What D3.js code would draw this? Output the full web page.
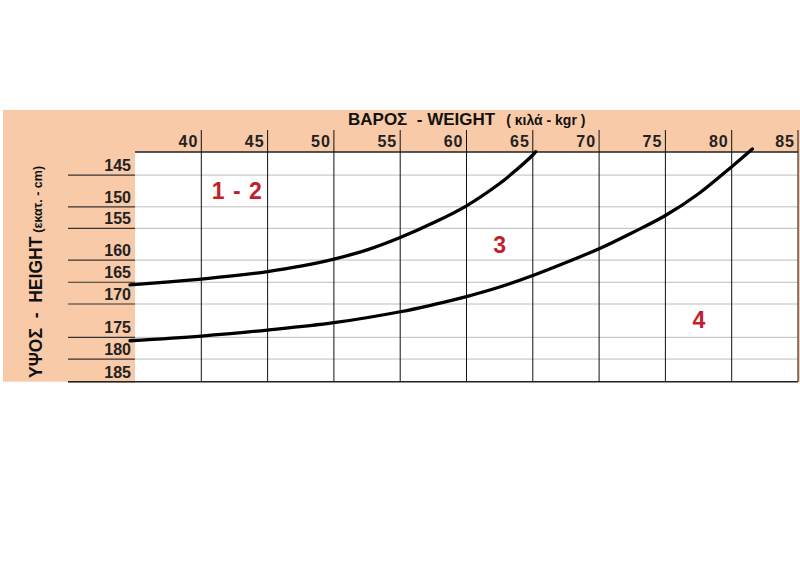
<!DOCTYPE html>
<html><head><meta charset="utf-8">
<script src="https://cdn.jsdelivr.net/npm/d3@7"></script>
<style>body{margin:0;background:#fff}svg{display:block;font-family:"Liberation Sans",Arial,sans-serif}</style>
</head><body>
<svg id="c" width="800" height="582"></svg>
<script>
// ---- data ----
const weightTicks = [40,45,50,55,60,65,70,75,80,85];
const heightLabels = [145,150,155,160,165,170,175,180,185];
const upperWeights = [34.62,40,42.5,45,47.5,50,52.5,55,57.5,60,62.5,63.75,65,65.23];
const upperHeights = [168.12,166.77,166.02,165.08,163.86,162.35,160.9,158.95,156.22,152.34,148.83,146.4,143.15,142.43];
const lowerWeights = [34.62,40,45,50,55,57.5,60,62.5,65,67.5,70,72.5,75,77.5,80,81.56];
const lowerHeights = [178.29,177.31,176.41,175.31,173.66,172.59,170.78,168.59,165.98,163.05,160.71,158.19,154.52,150.44,145.68,141.85];
const zoneLabels = ["1 - 2","3","4"];
const zoneWeights = [42.71,62.5,77.52];
const zoneHeights = [151.32,161.43,176.15];

// ---- layout ----
const rowSpan = [1.04,1.43,0.97,1.43,1.0,0.98,1.5,0.98,1.02];
const L=135, R=798, T=152, B=381.7;
const svg = d3.select("#c");
const x = d3.scaleLinear().domain([35,85]).range([L,R]);
const unit = (B-T)/d3.sum(rowSpan);
const bounds = heightLabels.map(h=>h-2.5).concat([heightLabels[heightLabels.length-1]+2.5]);
const cum = [T]; rowSpan.forEach((s,i)=>cum.push(cum[i]+s*unit));
const y = d3.scaleLinear().domain(bounds).range(cum);

// background panel
svg.append("rect").attr("x",3).attr("y",110).attr("width",797).attr("height",B-110).attr("fill","#f8caa8");
svg.append("rect").attr("x",L).attr("y",T).attr("width",R-L).attr("height",B-T).attr("fill","#fff");

// horizontal grid
const g = svg.append("g");
bounds.slice(1,-1).forEach(b=>{
  g.append("line").attr("x1",L).attr("x2",R).attr("y1",y(b)).attr("y2",y(b)).attr("stroke","#bdbdbd").attr("stroke-width",1);
});
bounds.slice(1).forEach(b=>{
  g.append("line").attr("x1",68).attr("x2",L).attr("y1",y(b)).attr("y2",y(b)).attr("stroke","#333").attr("stroke-width",1.2);
});
g.append("line").attr("x1",L).attr("x2",R).attr("y1",T).attr("y2",T).attr("stroke","#222").attr("stroke-width",1.5);
g.append("line").attr("x1",68).attr("x2",R).attr("y1",B).attr("y2",B).attr("stroke","#222").attr("stroke-width",1.5);

// vertical lines
weightTicks.forEach(w=>{
  g.append("line").attr("x1",x(w)).attr("x2",x(w)).attr("y1",130).attr("y2",B).attr("stroke","#111").attr("stroke-width",1);
});

// weight tick labels
svg.append("g").selectAll("text").data(weightTicks).join("text")
  .attr("x",d=>x(d)-3).attr("y",147).attr("text-anchor","end")
  .attr("font-size",16).attr("font-weight","bold").attr("letter-spacing",1).attr("fill","#222")
  .text(d=>d);

// height labels
svg.append("g").selectAll("text").data(heightLabels).join("text")
  .attr("x",131).attr("y",d=>y(d+2.5)-4).attr("text-anchor","end")
  .attr("font-size",16).attr("font-weight","bold").attr("fill","#222")
  .text(d=>d);

// titles
const xt = svg.append("text").attr("x",348).attr("y",125).attr("font-weight","bold").attr("fill","#111");
xt.append("tspan").attr("font-size",17).attr("xml:space","preserve").text("ΒΑΡΟΣ  - WEIGHT");
xt.append("tspan").attr("font-size",14).attr("dx",11).text("( κιλά - kgr )");

const yt = svg.append("text").attr("transform","translate(41.5,378) rotate(-90)").attr("font-weight","bold").attr("fill","#111");
yt.append("tspan").attr("font-size",17.5).attr("xml:space","preserve").text("ΥΨΟΣ  -  HEIGHT");
yt.append("tspan").attr("font-size",12.5).attr("dx",4).text("(εκατ. - cm)");

// curves
const line = d3.line().x(d=>x(d[0])).y(d=>y(d[1])).curve(d3.curveCatmullRom);
[[upperWeights,upperHeights],[lowerWeights,lowerHeights]].forEach(([ws,hs])=>{
  svg.append("path").attr("d",line(ws.map((w,i)=>[w,hs[i]])))
    .attr("fill","none").attr("stroke","#000").attr("stroke-width",3.3).attr("stroke-linecap","round");
});

// zone labels
svg.append("g").selectAll("text").data(zoneLabels).join("text")
  .attr("x",(d,i)=>x(zoneWeights[i])).attr("y",(d,i)=>y(zoneHeights[i]))
  .attr("text-anchor","middle").attr("font-size",23).attr("font-weight","bold").attr("fill","#c41e2a")
  .attr("letter-spacing",(d,i)=>i===0?1:0)
  .text(d=>d);
</script>
</body></html>
